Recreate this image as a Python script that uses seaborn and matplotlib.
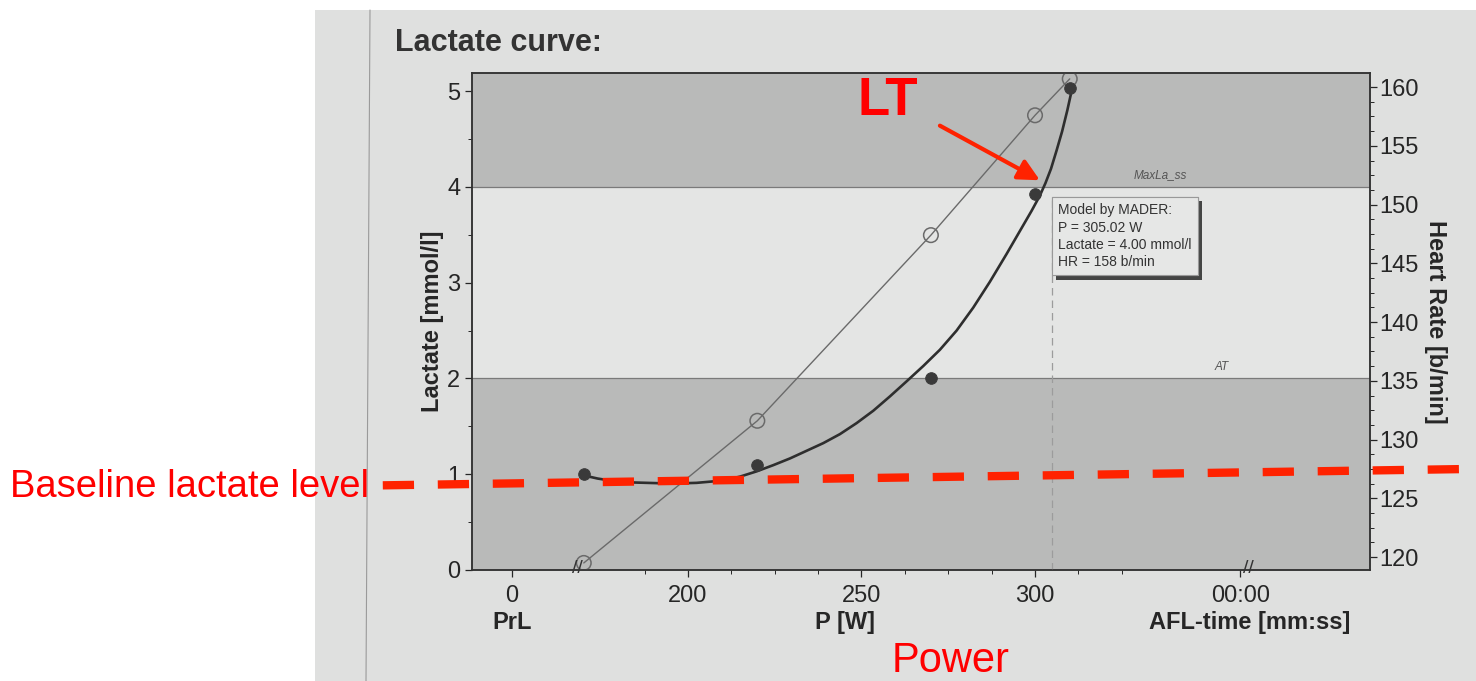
import matplotlib
matplotlib.use("Agg")
import matplotlib.pyplot as plt
import matplotlib.patheffects as pe
from matplotlib.ticker import MultipleLocator, FixedLocator
import seaborn as sns
import pandas as pd

# ---------------- data ----------------
power_w = [170, 220, 270, 300, 310]
lactate_mmol = [1.00, 1.10, 2.00, 3.93, 5.03]
heart_rate = [119.5, 131.6, 147.4, 157.6, 160.7]

# fitted lactate curve (Mader model)
curve_power = [169.7, 174.0, 178.4, 183.3, 188.2, 193.0, 197.7, 202.5, 207.2, 212.0,
               215.0, 219.8, 224.6, 229.4, 234.2, 239.0, 243.8, 248.6, 253.4, 258.2,
               263.0, 267.8, 272.6, 277.4, 282.2, 287.0, 291.8, 296.6, 299.0, 301.4,
               303.0, 304.6, 306.2, 307.8, 309.3, 310.7]
curve_lactate = [0.99, 0.955, 0.93, 0.915, 0.91, 0.905, 0.905, 0.91, 0.925, 0.95,
                 0.975, 1.03, 1.095, 1.165, 1.245, 1.325, 1.419, 1.534, 1.663, 1.813,
                 1.970, 2.130, 2.300, 2.500, 2.740, 3.010, 3.300, 3.600, 3.750, 3.910,
                 4.040, 4.190, 4.380, 4.580, 4.800, 5.03]

# threshold bands / labels
band_low = [0.0, 2.0]
band_high = [4.0, 5.19]
band_names = ["AT", "MaxLa_ss"]

# model result
lt_power = 305.02
lt_lactate = 4.00
lt_hr = 158

# hand-drawn baseline annotation (slightly tilted in the photo)
baseline_x = [112.1, 427.1]
baseline_y = [0.884, 1.056]

xtick_values = [149.3, 200, 250, 300, 359.1]
xtick_labels = ["0", "200", "250", "300", "00:00"]
section_labels = ["PrL", "P [W]", "AFL-time [mm:ss]"]
section_pos = [149.3, 245.2, 361.9]
break_pos = [168.3, 361.4]

lactate_ticks = [0, 1, 2, 3, 4, 5]
hr_ticks = [120, 125, 130, 135, 140, 145, 150, 155, 160]

# ---------------- style ----------------
sns.set_style("ticks")
plt.rcParams["font.family"] = ["Liberation Sans", "DejaVu Sans"]

paper = "#dfe0df"
band_col = "#b9bab9"
mid_col = "#e4e5e4"
ink = "#262626"
red = "#ff2200"

fig = plt.figure(figsize=(14.76, 6.81), dpi=100, facecolor="white")
# photo of the printout
fig.patches.append(plt.Rectangle((315 / 1476, 0), 1 - 315 / 1476, 1 - 10 / 681,
                                 transform=fig.transFigure, facecolor=paper,
                                 edgecolor="none", zorder=-5))
fig.lines.append(plt.Line2D([370 / 1476, 366 / 1476], [1 - 10 / 681, 0],
                            transform=fig.transFigure, color="#9a9a9a", lw=0.8, zorder=-4))

pos = [472 / 1476, 1 - 570 / 681, (1370 - 472) / 1476, (570 - 73) / 681]
xlim = (137.8, 396.5)
ylim = (0, 5.19)

# background bands (own axes, behind both data axes)
bg = fig.add_axes(pos, zorder=-1)
bg.set_facecolor(mid_col)
bg.set_xlim(xlim); bg.set_ylim(ylim)
bg.axhspan(band_low[0], band_low[1], color=band_col, lw=0)
bg.axhspan(band_high[0], band_high[1], color=band_col, lw=0)
bg.axhline(band_low[1], color="#7a7a7a", lw=0.9)
bg.axhline(band_high[0], color="#7a7a7a", lw=0.9)
bg.set_xticks([]); bg.set_yticks([])
for s in bg.spines.values():
    s.set_visible(False)

ax = fig.add_axes(pos, zorder=2)
ax.set_xlim(*xlim)
ax.set_ylim(*ylim)
ax.patch.set_visible(False)

ax.text(353.9, band_low[1] + 0.06, band_names[0], fontsize=8.5, style="italic",
        color="#555555", ha="center", va="bottom")
ax.text(336.0, band_high[0] + 0.06, band_names[1], fontsize=8.5, style="italic",
        color="#555555", ha="center", va="bottom")

# vertical dashed model line
ax.vlines(lt_power, 0, 3.9, colors="#9c9c9c", linestyles=(0, (6, 4)), lw=0.9, zorder=2)

# heart rate on twin axis
ax2 = ax.twinx()
ax2.set_zorder(1)
ax2.patch.set_visible(False)
ax2.set_ylim(118.9, 161.2)
hr_df = pd.DataFrame({"P": power_w, "HR": heart_rate})
sns.lineplot(data=hr_df, x="P", y="HR", ax=ax2, color="#6a6a6a", lw=1.0, sort=False,
             zorder=3)
sns.scatterplot(data=hr_df, x="P", y="HR", ax=ax2, s=110, facecolor="none",
                edgecolor="#6a6a6a", linewidth=1.1, zorder=4)

# lactate curve and measured points
curve_df = pd.DataFrame({"P": curve_power, "La": curve_lactate})
sns.lineplot(data=curve_df, x="P", y="La", ax=ax, color="#2e2e2e", lw=1.9, sort=False,
             zorder=5)
pts_df = pd.DataFrame({"P": power_w, "La": lactate_mmol})
sns.scatterplot(data=pts_df, x="P", y="La", ax=ax, s=70, color="#3a3a3a",
                edgecolor="#3a3a3a", zorder=6)

# ---------------- axes formatting ----------------
ax.set_xlabel("")
ax.set_ylabel("Lactate [mmol/l]", fontsize=17, fontweight="bold", color=ink, labelpad=2)
ax2.set_ylabel("Heart Rate [b/min]", fontsize=17, fontweight="bold", color=ink,
               rotation=270, labelpad=20)
ax.xaxis.set_major_locator(FixedLocator(xtick_values))
ax.set_xticklabels(xtick_labels)
ax.xaxis.set_minor_locator(FixedLocator([187.5 + 12.5 * i for i in range(12)]))
ax.yaxis.set_major_locator(FixedLocator(lactate_ticks))
ax.yaxis.set_minor_locator(MultipleLocator(0.5))
ax2.yaxis.set_major_locator(FixedLocator(hr_ticks))
ax2.yaxis.set_minor_locator(MultipleLocator(1.25))
ax.tick_params(axis="both", which="major", labelsize=17, colors=ink, length=5, width=0.9)
ax.tick_params(axis="both", which="minor", length=3, width=0.7, colors=ink)
ax.tick_params(axis="x", pad=6)
ax2.tick_params(axis="y", which="major", labelsize=17, colors=ink, length=5, width=0.9, pad=2)
ax2.tick_params(axis="y", which="minor", length=3, width=0.7, colors=ink)
ax2.set_xlabel("")
for a in (ax, ax2):
    for s in a.spines.values():
        s.set_visible(True)
        s.set_color("#333333")
        s.set_linewidth(1.1)

for lab, p in zip(section_labels, section_pos):
    ax.text(p, -0.105, lab, transform=ax.get_xaxis_transform(), ha="center", va="center",
            fontsize=17, fontweight="bold", color=ink)
for bp in break_pos:
    ax.text(bp, 0.02, "//", ha="center", va="center", fontsize=14, color="#333333",
            clip_on=False, zorder=8)

# model text box
t = ax.text(306.6, 3.83, "Model by MADER:\nP = %.2f W\nLactate = %.2f mmol/l\nHR = %d b/min"
            % (lt_power, lt_lactate, lt_hr), fontsize=10, color="#333333", va="top",
            ha="left", linespacing=1.3, zorder=9,
            bbox=dict(boxstyle="square,pad=0.45", facecolor="#e6e7e6", edgecolor="#999999",
                      lw=0.8))
t.get_bbox_patch().set_path_effects([pe.withSimplePatchShadow(offset=(3, -3),
                                                              shadow_rgbFace="#333333",
                                                              alpha=0.9), pe.Normal()])

# ---------------- red annotations ----------------
ax.plot(baseline_x, baseline_y, color=red, lw=6, dashes=(3.75, 2.85), solid_capstyle="butt",
        dash_capstyle="butt", clip_on=False, zorder=10)
fig.text(10 / 1476, 1 - 487 / 681, "Baseline lactate level", color="#ff0000",
         fontsize=27.5, ha="left", va="center")
ax.annotate("", xy=(301.4, 4.07), xytext=(272.6, 4.64),
            arrowprops=dict(arrowstyle="-|>", color=red, lw=3, mutation_scale=32,
                            shrinkA=0, shrinkB=0), zorder=11)
ax.text(257.6, 4.9, "LT", color="#ff0000", fontsize=38, fontweight="bold",
        ha="center", va="center", zorder=11)
fig.text(951 / 1476, 1 - 661 / 681, "Power", color="#ff0000", fontsize=30,
         ha="center", va="center")

fig.text(395 / 1476, 1 - 43 / 681, "Lactate curve:", color="#333333", fontsize=22,
         fontweight="bold", ha="left", va="center")

fig.savefig("out.png", dpi=100, facecolor="white")
